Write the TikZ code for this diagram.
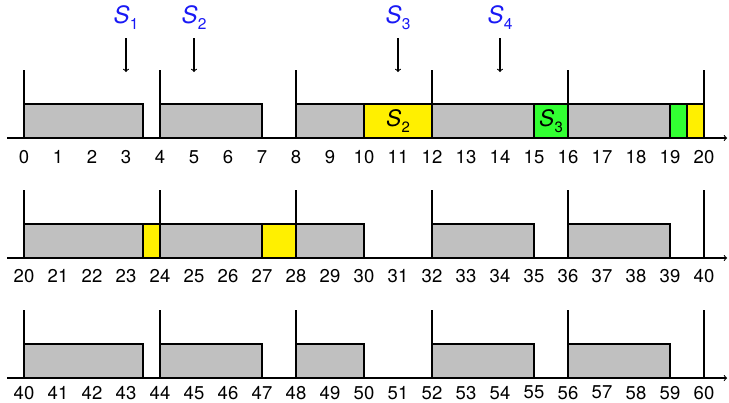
\documentclass[tikz,border=0pt]{standalone}
\usepackage{fontspec}
\setmainfont{TeX Gyre Heros}
\definecolor{boxgray}{RGB}{192,192,192}
\definecolor{syellow}{RGB}{255,240,0}
\definecolor{sgreen}{RGB}{50,255,50}
\definecolor{sblue}{RGB}{25,25,245}
\newcommand{\Slab}[2]{\textit{S}\kern0.3pt\raisebox{-0.45ex}{\fontsize{#2}{#2}\selectfont #1}}
\tikzset{
  task/.style={draw=black, fill=boxgray},
  ytask/.style={draw=black, fill=syellow},
  gtask/.style={draw=black, fill=sgreen},
  num/.style={font=\fontsize{15.5}{15.5}\selectfont, inner sep=0pt},
  slabel/.style={font=\fontsize{20}{20}\selectfont, text=sblue, inner sep=0pt},
  boxlabel/.style={font=\fontsize{19}{19}\selectfont, inner sep=0pt},
  axisline/.style={->, line width=0.9pt},
  tickline/.style={line width=0.9pt},
}
\begin{document}
\begin{tikzpicture}[line width=0.9pt]
\useasboundingbox (-0.706,-7.765) rectangle (20.735,4.059);
% row 1 boxes
\draw[task] (0,0) rectangle (3.5,1);
\draw[task] (4,0) rectangle (7,1);
\draw[task] (8,0) rectangle (10,1);
\draw[ytask] (10,0) rectangle (12,1);
\node[boxlabel] (b1) at (11,0.5) {\Slab{2}{12.5}};
\draw[task] (12,0) rectangle (15,1);
\draw[gtask] (15,0) rectangle (16,1);
\node[boxlabel] (b2) at (15.5,0.5) {\Slab{3}{12.5}};
\draw[task] (16,0) rectangle (19,1);
\draw[gtask] (19,0) rectangle (19.5,1);
\draw[ytask] (19.5,0) rectangle (20,1);
% row 2 boxes
\begin{scope}[yshift=-3.529cm]
\draw[task] (0,0) rectangle (3.5,1);
\draw[ytask] (3.5,0) rectangle (4,1);
\draw[task] (4,0) rectangle (7,1);
\draw[ytask] (7,0) rectangle (8,1);
\draw[task] (8,0) rectangle (10,1);
\draw[task] (12,0) rectangle (15,1);
\draw[task] (16,0) rectangle (19,1);
\end{scope}
% row 3 boxes
\begin{scope}[yshift=-7.059cm]
\draw[task] (0,0) rectangle (3.5,1);
\draw[task] (4,0) rectangle (7,1);
\draw[task] (8,0) rectangle (10,1);
\draw[task] (12,0) rectangle (15,1);
\draw[task] (16,0) rectangle (19,1);
\end{scope}
% axes, ticks, numbers
\foreach \r/\yo/\ly in {0/0/-0.56, 1/-3.529/-0.54, 2/-7.059/-0.43} {
  \coordinate (ax\r s) at (-0.5,\yo);
  \coordinate (ax\r e) at (20.68,\yo);
  \draw[axisline] (ax\r s) -- (ax\r e);
  \foreach \k in {0,4,...,20} {
    \coordinate (t\r-\k a) at (\k,\yo);
    \coordinate (t\r-\k b) at (\k,\yo+2);
    \draw[tickline] (t\r-\k a) -- (t\r-\k b);
  }
  \foreach \k in {0,...,20} {
    \pgfmathtruncatemacro\lab{\k+20*\r}
    \node[num] (n\r-\k) at (\k,\yo+\ly) {\lab};
  }
}
% release arrows
\foreach \i/\x in {1/3, 2/5, 3/11, 4/14} {
  \node[slabel] (s\i) at (\x,3.54) {\Slab{\i}{13}};
  \coordinate (ra\i) at (\x,2.94);
  \coordinate (rb\i) at (\x,1.94);
  \draw[->] (ra\i) -- (rb\i);
}
\end{tikzpicture}
\end{document}
